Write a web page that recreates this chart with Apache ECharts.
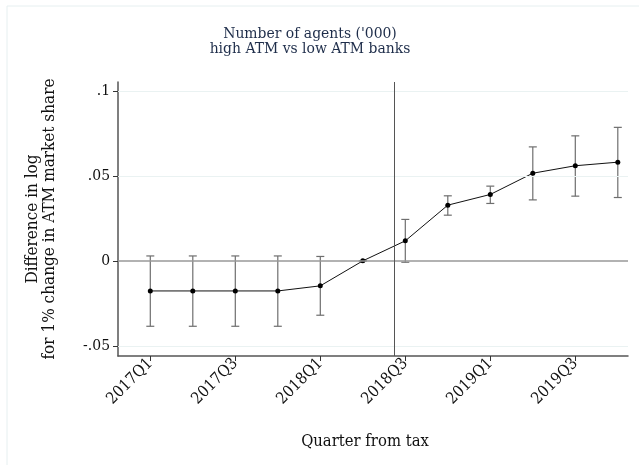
<!DOCTYPE html>
<html>
<head>
<meta charset="utf-8">
<script src="https://cdn.jsdelivr.net/npm/echarts@6/dist/echarts.min.js"></script>
<style>
  html, body { margin: 0; padding: 0; background: #ffffff; }
  #chart { width: 639px; height: 465px; }
</style>
</head>
<body>
<div id="chart"></div>
<script>
// Quarters relative to the tax, point estimates and 95% confidence bounds
const quarters = ['2017Q1', '2017Q2', '2017Q3', '2017Q4', '2018Q1', '2018Q2',
                  '2018Q3', '2018Q4', '2019Q1', '2019Q2', '2019Q3', '2019Q4'];
const estimate = [-0.0177, -0.0177, -0.0177, -0.0177, -0.0147, 0.0,
                  0.0118, 0.0328, 0.0391, 0.0516, 0.0560, 0.0581];
const upper    = [0.0029, 0.0029, 0.0029, 0.0029, 0.0026, 0.0,
                  0.0244, 0.0383, 0.0440, 0.0671, 0.0736, 0.0786];
const lower    = [-0.0385, -0.0385, -0.0385, -0.0385, -0.0320, 0.0,
                  -0.0008, 0.0269, 0.0338, 0.0359, 0.0381, 0.0373];
const labelledQuarters = [0, 2, 4, 6, 8, 10];
const yTicks = [-0.05, 0, 0.05, 0.1];
const yTickText = ['-.05', '0', '.05', '.1'];
const taxPosition = 5.75; // tax introduction, within 2018Q2

const serif = '"DejaVu Serif Condensed", "DejaVu Serif", serif';
const chart = echarts.init(document.getElementById('chart'), null, { renderer: 'canvas' });

const pointData = estimate.map((v, i) => [i, v]);
const ciData = estimate.map((v, i) => [i, lower[i], upper[i]]);

chart.setOption({
  animation: false,
  backgroundColor: '#ffffff',
  title: {
    text: "Number of agents ('000)\nhigh ATM vs low ATM banks",
    left: 305, top: 21, textAlign: 'center',
    textStyle: { fontFamily: serif, fontWeight: 'normal', fontSize: 15.5, lineHeight: 15, color: '#1e2d4a' }
  },
  graphic: [
    { type: 'line', shape: { x1: 7, y1: 6, x2: 639, y2: 6 }, style: { stroke: '#e6eff0', lineWidth: 1 }, silent: true },
    { type: 'line', shape: { x1: 7, y1: 6, x2: 7, y2: 465 }, style: { stroke: '#e6eff0', lineWidth: 1 }, silent: true }
  ],
  grid: { left: 118, right: 11, top: 82, bottom: 109, containLabel: false },
  xAxis: {
    type: 'value', min: -0.76, max: 11.24,
    name: 'Quarter from tax', nameLocation: 'middle', nameGap: 77,
    nameTextStyle: { fontFamily: serif, fontSize: 16.5, color: '#111', padding: [0, 16, 0, 0] },
    axisLine: { show: true, onZero: false, lineStyle: { color: '#555', width: 1.5 } },
    axisTick: { show: true, length: 5, customValues: labelledQuarters, lineStyle: { color: '#333' } },
    axisLabel: {
      customValues: labelledQuarters, rotate: 45, margin: 5,
      fontFamily: serif, fontSize: 16, color: '#111',
      formatter: v => quarters[Math.round(v)]
    },
    splitLine: { show: false }
  },
  yAxis: {
    type: 'value', min: -0.056, max: 0.1053,
    name: 'Difference in log\nfor 1% change in ATM market share',
    nameLocation: 'middle', nameGap: 60,
    nameTextStyle: { fontFamily: serif, fontSize: 17, lineHeight: 17, color: '#111' },
    axisLine: { show: true, onZero: false, lineStyle: { color: '#555', width: 1.5 } },
    axisTick: { show: true, length: 5, customValues: yTicks, lineStyle: { color: '#333' } },
    axisLabel: {
      customValues: yTicks, margin: 8, fontFamily: serif, fontSize: 15.5, color: '#111',
      formatter: v => yTickText[yTicks.findIndex(t => Math.abs(t - v) < 1e-9)]
    },
    splitLine: { show: false }
  },
  series: [
    {
      // light grid lines, the zero reference line and the tax marker
      type: 'line', data: [], silent: true,
      markLine: {
        symbol: 'none', silent: true, label: { show: false }, animation: false,
        data: [
          { yAxis: 0.1, lineStyle: { color: '#eaf2f2', width: 1, type: 'solid' } },
          { yAxis: 0.05, lineStyle: { color: '#eaf2f2', width: 1, type: 'solid' } },
          { yAxis: -0.05, lineStyle: { color: '#eaf2f2', width: 1, type: 'solid' } },
          { yAxis: 0, lineStyle: { color: '#999999', width: 1.5, type: 'solid' } },
          { xAxis: taxPosition, lineStyle: { color: '#555555', width: 1, type: 'solid' } }
        ]
      }
    },
    {
      type: 'custom', name: 'CI', data: ciData, z: 3,
      renderItem: function (params, api) {
        const x = api.value(0);
        const lo = api.coord([x, api.value(1)]);
        const hi = api.coord([x, api.value(2)]);
        const cap = 4;
        const style = { stroke: '#6e6e6e', lineWidth: 1.2 };
        return {
          type: 'group',
          children: [
            { type: 'line', shape: { x1: lo[0], y1: lo[1], x2: hi[0], y2: hi[1] }, style },
            { type: 'line', shape: { x1: lo[0] - cap, y1: lo[1], x2: lo[0] + cap, y2: lo[1] }, style },
            { type: 'line', shape: { x1: hi[0] - cap, y1: hi[1], x2: hi[0] + cap, y2: hi[1] }, style }
          ]
        };
      }
    },
    {
      type: 'line', name: 'Estimate', data: pointData, z: 4,
      symbol: 'circle', symbolSize: 5,
      itemStyle: { color: '#000000' },
      lineStyle: { color: '#111111', width: 1 }
    }
  ]
});
</script>
</body>
</html>
